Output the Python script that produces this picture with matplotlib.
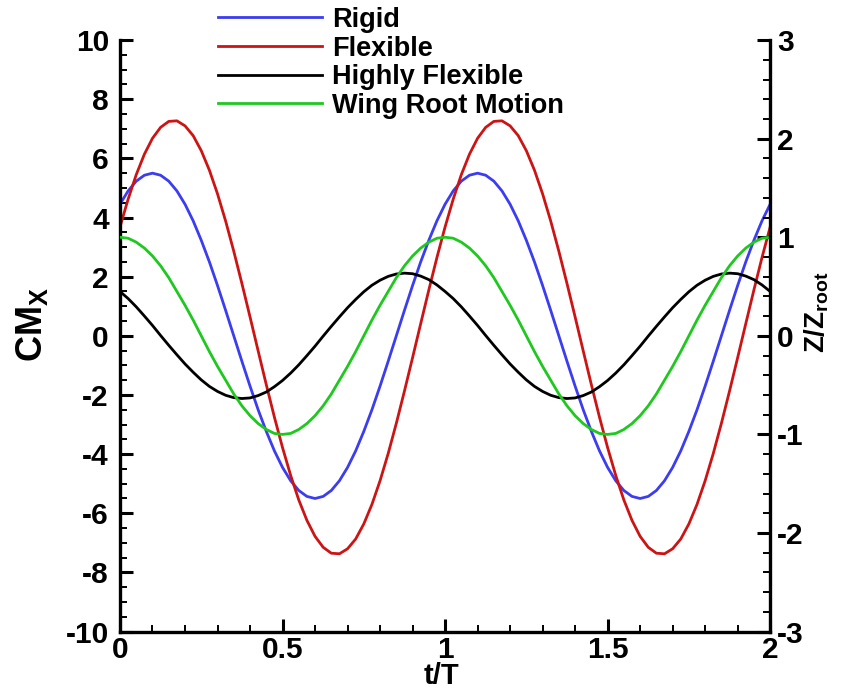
import numpy as np
import matplotlib
matplotlib.use("Agg")
import matplotlib.pyplot as plt
from matplotlib.ticker import MultipleLocator

plt.rcParams['font.family'] = ['Liberation Sans', 'DejaVu Sans']
plt.rcParams['font.weight'] = 'bold'
plt.rcParams['mathtext.fontset'] = 'custom'
plt.rcParams['mathtext.rm'] = 'Liberation Sans:bold'
plt.rcParams['mathtext.it'] = 'Liberation Sans:bold'
plt.rcParams['mathtext.bf'] = 'Liberation Sans:bold'

# two flapping cycles, sampled every 0.025 T
t = np.linspace(0.0, 2.0, 81)

cm_rigid = [4.45, 4.90, 5.23, 5.43, 5.50, 5.43, 5.23, 4.90, 4.45, 3.89,
            3.23, 2.50, 1.70, 0.86, 0.00, -0.86, -1.70, -2.50, -3.23, -3.89,
            -4.45, -4.90, -5.23, -5.43, -5.50, -5.43, -5.23, -4.90, -4.45, -3.89,
            -3.23, -2.50, -1.70, -0.86, 0.00, 0.86, 1.70, 2.50, 3.23, 3.89,
            4.45, 4.90, 5.23, 5.43, 5.50, 5.43, 5.23, 4.90, 4.45, 3.89,
            3.23, 2.50, 1.70, 0.86, 0.00, -0.86, -1.70, -2.50, -3.23, -3.89,
            -4.45, -4.90, -5.23, -5.43, -5.50, -5.43, -5.23, -4.90, -4.45, -3.89,
            -3.23, -2.50, -1.70, -0.86, 0.00, 0.86, 1.70, 2.50, 3.23, 3.89,
            4.45]

cm_flexible = [3.68, 4.62, 5.45, 6.14, 6.68, 7.05, 7.25, 7.27, 7.10, 6.77,
               6.26, 5.60, 4.80, 3.88, 2.86, 1.77, 0.64, -0.51, -1.65, -2.75,
               -3.78, -4.72, -5.55, -6.24, -6.78, -7.15, -7.35, -7.37, -7.20, -6.87,
               -6.36, -5.70, -4.90, -3.98, -2.96, -1.87, -0.74, 0.41, 1.55, 2.65,
               3.68, 4.62, 5.45, 6.14, 6.68, 7.05, 7.25, 7.27, 7.10, 6.77,
               6.26, 5.60, 4.80, 3.88, 2.86, 1.77, 0.64, -0.51, -1.65, -2.75,
               -3.78, -4.72, -5.55, -6.24, -6.78, -7.15, -7.35, -7.37, -7.20, -6.87,
               -6.36, -5.70, -4.90, -3.98, -2.96, -1.87, -0.74, 0.41, 1.55, 2.65,
               3.68]

cm_highly = [1.50, 1.26, 0.98, 0.67, 0.35, 0.01, -0.32, -0.64, -0.95, -1.23,
             -1.49, -1.71, -1.88, -2.01, -2.09, -2.12, -2.10, -2.02, -1.90, -1.72,
             -1.51, -1.26, -0.98, -0.67, -0.35, -0.01, 0.32, 0.64, 0.95, 1.23,
             1.49, 1.71, 1.88, 2.01, 2.09, 2.12, 2.10, 2.02, 1.90, 1.72,
             1.50, 1.26, 0.98, 0.67, 0.35, 0.01, -0.32, -0.64, -0.95, -1.23,
             -1.49, -1.71, -1.88, -2.01, -2.09, -2.12, -2.10, -2.02, -1.90, -1.72,
             -1.51, -1.26, -0.98, -0.67, -0.35, -0.01, 0.32, 0.64, 0.95, 1.23,
             1.49, 1.71, 1.88, 2.01, 2.09, 2.12, 2.10, 2.02, 1.90, 1.72,
             1.50]

z_root = [1.00, 0.99, 0.95, 0.89, 0.81, 0.71, 0.59, 0.45, 0.31, 0.16,
          0.00, -0.16, -0.31, -0.45, -0.59, -0.71, -0.81, -0.89, -0.95, -0.99,
          -1.00, -0.99, -0.95, -0.89, -0.81, -0.71, -0.59, -0.45, -0.31, -0.16,
          0.00, 0.16, 0.31, 0.45, 0.59, 0.71, 0.81, 0.89, 0.95, 0.99,
          1.00, 0.99, 0.95, 0.89, 0.81, 0.71, 0.59, 0.45, 0.31, 0.16,
          0.00, -0.16, -0.31, -0.45, -0.59, -0.71, -0.81, -0.89, -0.95, -0.99,
          -1.00, -0.99, -0.95, -0.89, -0.81, -0.71, -0.59, -0.45, -0.31, -0.16,
          0.00, 0.16, 0.31, 0.45, 0.59, 0.71, 0.81, 0.89, 0.95, 0.99,
          1.00]

fig = plt.figure(figsize=(8.51, 6.91), dpi=100)
ax = fig.add_axes([0.141, 0.086, 0.764, 0.856])
ax2 = ax.twinx()

lw = 2.0
l1, = ax.plot(t, cm_rigid, color='#3c3cf0', lw=lw, label='Rigid')
l2, = ax.plot(t, cm_flexible, color='#cc1414', lw=lw, label='Flexible')
l3, = ax.plot(t, cm_highly, color='black', lw=lw, label='Highly Flexible')
l4, = ax2.plot(t, z_root, color='#1ec81e', lw=lw, label='Wing Root Motion')

ax.set_xlim(0, 2)
ax.set_ylim(-10, 10)
ax2.set_ylim(-3, 3)

ax.xaxis.set_major_locator(MultipleLocator(0.5))
ax.xaxis.set_minor_locator(MultipleLocator(0.1))
ax.yaxis.set_major_locator(MultipleLocator(2))
ax.yaxis.set_minor_locator(MultipleLocator(0.5))
ax2.yaxis.set_major_locator(MultipleLocator(1))
ax2.yaxis.set_minor_locator(MultipleLocator(0.2))

fmt = plt.FuncFormatter(lambda v, p: '%g' % v)
ax.xaxis.set_major_formatter(fmt)
ax.yaxis.set_major_formatter(fmt)
ax2.yaxis.set_major_formatter(fmt)

for a in (ax, ax2):
    a.tick_params(which='major', direction='in', length=9.5, width=2.2, labelsize=21.5)
    a.tick_params(which='minor', direction='in', length=5, width=1.4)
    for s in a.spines.values():
        s.set_linewidth(2.4)
    a.spines['top'].set_visible(False)
ax.spines['right'].set_visible(False)
ax2.spines['left'].set_visible(False)
ax2.spines['bottom'].set_visible(False)
ax.tick_params(axis='y', which='both', right=False, pad=8)
ax.tick_params(axis='x', which='both', top=False, pad=3.5)
ax2.tick_params(axis='y', which='both', left=False, pad=5)

ax.set_xlabel('t/T', fontsize=21, fontweight='bold')
ax.xaxis.set_label_coords(0.495, -0.051)
ax.set_ylabel(r'CM$_{\rm X}$', fontsize=26, fontweight='bold')
ax.yaxis.set_label_coords(-0.108, 0.52)
ax2.set_ylabel(r'Z/Z$_{\rm root}$', fontsize=20, fontweight='bold')
ax2.yaxis.set_label_coords(1.05, 0.54)

fig.legend(handles=[l1, l2, l3, l4], loc='upper left', bbox_to_anchor=(0.25, 0.998),
           frameon=False, fontsize=19.5, handlelength=3.85, handletextpad=0.37,
           labelspacing=0.1, borderaxespad=0, borderpad=0.2)

fig.savefig('out.png', dpi=100)
